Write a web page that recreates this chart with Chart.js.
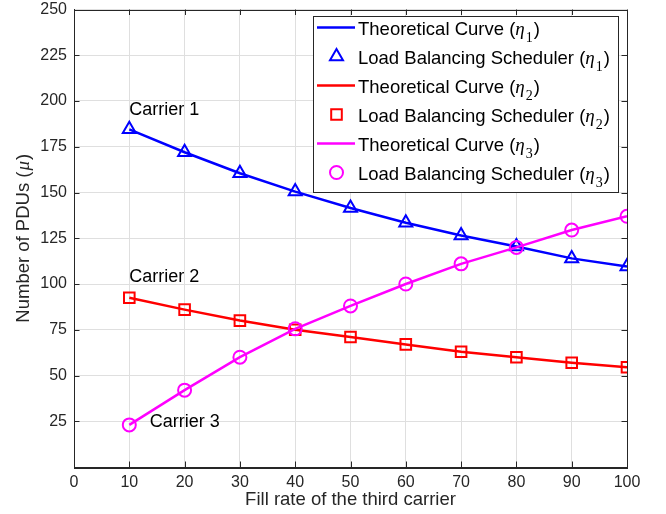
<!DOCTYPE html>
<html lang="en">
<head>
  <meta charset="UTF-8" />
  <title>Number of PDUs vs fill rate</title>
  <script src="https://cdn.jsdelivr.net/npm/chart.js"></script>
  <style>
    * { box-sizing: border-box; margin: 0; padding: 0; }
    html, body { width: 666px; height: 514px; background: #fff; overflow: hidden; }
    #wrap { position: relative; width: 666px; height: 514px; }
  </style>
</head>
<body>
  <div id="wrap"><canvas id="pduChart"></canvas></div>

  <script>
    // Data
    const fillRate = [10, 20, 30, 40, 50, 60, 70, 80, 90, 100];
    const eta1 = [184.5, 172, 160.5, 150.5, 141.5, 133.5, 126.5, 120.5, 114, 109.5];
    const eta2 = [92.5, 86, 80, 75, 71, 67, 63, 60, 57, 54.5];
    const eta3 = [23, 42, 60, 75.5, 88, 100, 111, 120, 129.5, 137];

    const xTicks = [0, 10, 20, 30, 40, 50, 60, 70, 80, 90, 100];
    const yTicks = [25, 50, 75, 100, 125, 150, 175, 200, 225, 250];

    const legendLabels = [
      ['Theoretical Curve', '1'],
      ['Load Balancing Scheduler', '1'],
      ['Theoretical Curve', '2'],
      ['Load Balancing Scheduler', '2'],
      ['Theoretical Curve', '3'],
      ['Load Balancing Scheduler', '3']
    ];
    const carrierNotes = ['Carrier 1', 'Carrier 2', 'Carrier 3'];
    const carrierNoteX = [10, 10, 13.7];
    const carrierNoteY = [195, 104, 24.3];

    const SANS = '"Liberation Sans", Arial, Helvetica, sans-serif';
    const SERIF = '"Liberation Serif", "Times New Roman", serif';
    const INK = '#262626';

    const pts = vals => fillRate.map((x, i) => ({ x: x, y: vals[i] }));

    function lineSet(vals, color, order) {
      return { data: pts(vals), borderColor: color, borderWidth: 2.5, pointRadius: 0,
               fill: false, tension: 0, order: order };
    }
    function markerSet(vals, color, style, r, order) {
      return { data: pts(vals), showLine: false, borderColor: color, backgroundColor: 'rgba(0,0,0,0)',
               pointStyle: style, pointRadius: r, pointBorderWidth: 2, pointHoverRadius: r, order: order };
    }

    const datasets = [
      lineSet(eta1, '#0000ff', 6),
      markerSet(eta1, '#0000ff', 'triangle', 7.5, 5),
      lineSet(eta2, '#ff0000', 4),
      markerSet(eta2, '#ff0000', 'rect', 7.5, 3),
      lineSet(eta3, '#ff00ff', 2),
      markerSet(eta3, '#ff00ff', 'circle', 6.5, 1)
    ];

    // label with italic eta and subscript, like the LaTeX text in the figure
    function drawEtaLabel(ctx, x, y, text, sub) {
      ctx.textAlign = 'left';
      ctx.textBaseline = 'alphabetic';
      ctx.font = '18.5px ' + SANS;
      const head = text + ' (';
      ctx.fillText(head, x, y);
      x += ctx.measureText(head).width;
      ctx.font = 'italic 19px ' + SERIF;
      ctx.fillText('\u03b7', x, y);
      x += ctx.measureText('\u03b7').width + 1;
      ctx.font = '14px ' + SERIF;
      ctx.fillText(sub, x, y + 7);
      x += ctx.measureText(sub).width + 1;
      ctx.font = '18.5px ' + SANS;
      ctx.fillText(')', x, y);
    }

    const matlabDecor = {
      id: 'matlabDecor',
      afterDraw(chart) {
        const ctx = chart.ctx;
        const a = chart.chartArea;
        const xs = chart.scales.x, ys = chart.scales.y;
        ctx.save();

        // inward ticks on all four sides + box
        ctx.strokeStyle = INK;
        ctx.lineWidth = 1;
        ctx.beginPath();
        xTicks.forEach(v => {
          const px = Math.round(xs.getPixelForValue(v)) + 0.5;
          ctx.moveTo(px, a.bottom); ctx.lineTo(px, a.bottom - 5.5);
          ctx.moveTo(px, a.top); ctx.lineTo(px, a.top + 5.5);
        });
        yTicks.forEach(v => {
          const py = Math.round(ys.getPixelForValue(v)) + 0.5;
          ctx.moveTo(a.left, py); ctx.lineTo(a.left + 5.5, py);
          ctx.moveTo(a.right, py); ctx.lineTo(a.right - 5.5, py);
        });
        ctx.stroke();
        ctx.strokeRect(Math.round(a.left) + 0.5, Math.round(a.top) + 0.5,
                       Math.round(a.right - a.left), Math.round(a.bottom - a.top));

        // y axis title with italic mu
        ctx.save();
        ctx.translate(23.5, (a.top + a.bottom) / 2);
        ctx.rotate(-Math.PI / 2);
        ctx.fillStyle = INK;
        ctx.textBaseline = 'middle';
        ctx.textAlign = 'left';
        ctx.font = '18.5px ' + SANS;
        const t1 = 'Number of PDUs (';
        const w1 = ctx.measureText(t1).width;
        ctx.font = 'italic 19px ' + SERIF;
        const wMu = ctx.measureText('\u03bc').width + 2;
        ctx.font = '18.5px ' + SANS;
        const w3 = ctx.measureText(')').width;
        let x0 = -(w1 + wMu + w3) / 2;
        ctx.fillText(t1, x0, 0);
        ctx.font = 'italic 19px ' + SERIF;
        ctx.fillText('\u03bc', x0 + w1 + 1, 0);
        ctx.font = '18.5px ' + SANS;
        ctx.fillText(')', x0 + w1 + wMu, 0);
        ctx.restore();

        // carrier annotations
        ctx.fillStyle = '#000';
        ctx.font = '18px ' + SANS;
        ctx.textAlign = 'left';
        ctx.textBaseline = 'middle';
        carrierNotes.forEach((t, i) => {
          ctx.fillText(t, xs.getPixelForValue(carrierNoteX[i]), ys.getPixelForValue(carrierNoteY[i]));
        });

        // legend box
        const lx = 313.5, ly = 16.5, lw = 305, lh = 176;
        ctx.fillStyle = '#fff';
        ctx.fillRect(lx, ly, lw, lh);
        ctx.strokeStyle = INK;
        ctx.lineWidth = 1;
        ctx.strokeRect(lx, ly, lw, lh);
        legendLabels.forEach((lab, i) => {
          const ds = chart.data.datasets[i];
          const cy = 27.5 + i * 29;
          if (ds.showLine === false) {
            ctx.strokeStyle = ds.borderColor;
            ctx.fillStyle = 'rgba(0,0,0,0)';
            ctx.lineWidth = 2;
            Chart.helpers.drawPoint(ctx, { pointStyle: ds.pointStyle, radius: ds.pointRadius,
                                          rotation: 0, borderWidth: 2 }, 336.5, cy);
          } else {
            ctx.strokeStyle = ds.borderColor;
            ctx.lineWidth = 2.5;
            ctx.beginPath();
            ctx.moveTo(317, cy); ctx.lineTo(355, cy);
            ctx.stroke();
          }
          ctx.fillStyle = '#000';
          drawEtaLabel(ctx, 358, cy + 7, lab[0], lab[1]);
        });

        ctx.restore();
      }
    };

    new Chart(document.getElementById('pduChart'), {
      type: 'line',
      data: { datasets: datasets },
      options: {
        responsive: true,
        maintainAspectRatio: false,
        animation: false,
        layout: { padding: { left: 0, right: 39, top: 8, bottom: 0 } },
        plugins: { legend: { display: false }, tooltip: { enabled: false } },
        scales: {
          x: {
            type: 'linear', min: 0, max: 100,
            afterBuildTicks: s => { s.ticks = xTicks.map(v => ({ value: v })); },
            afterFit: s => { s.height = 47; s.paddingLeft = 0; s.paddingRight = 0; },
            grid: { color: '#dfdfdf', drawTicks: false },
            border: { color: INK, width: 1 },
            ticks: { color: INK, padding: 8, maxRotation: 0, autoSkip: false,
                     font: { family: SANS, size: 16, lineHeight: 1 } },
            title: { display: true, text: 'Fill rate of the third carrier', color: INK,
                     font: { family: SANS, size: 18.5, lineHeight: 1.2 }, padding: { top: 0, bottom: 3 } }
          },
          y: {
            min: 0, max: 250,
            afterBuildTicks: s => { s.ticks = yTicks.map(v => ({ value: v })); },
            afterFit: s => { s.width = 74; s.paddingTop = 0; s.paddingBottom = 0; },
            grid: { color: '#dfdfdf', drawTicks: false },
            border: { color: INK, width: 1 },
            ticks: { color: INK, padding: 7, autoSkip: false,
                     font: { family: SANS, size: 16, lineHeight: 1 } }
          }
        }
      },
      plugins: [matlabDecor]
    });
  </script>
</body>
</html>
